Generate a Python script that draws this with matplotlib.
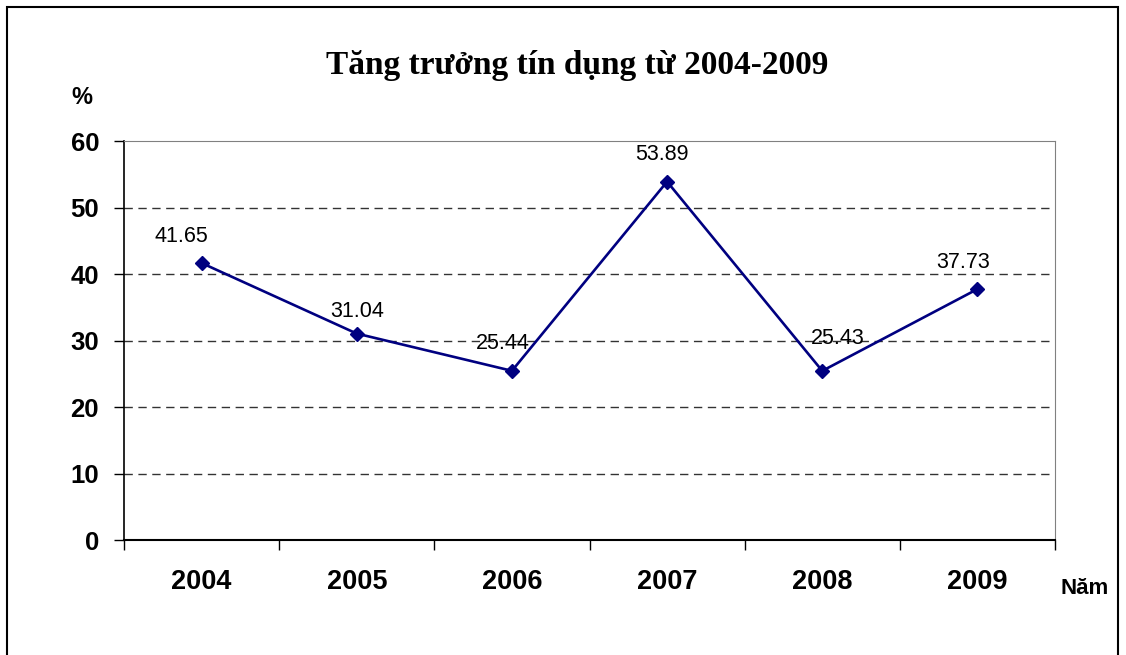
import matplotlib.pyplot as plt
from matplotlib.patches import Rectangle

# data
years = ['2004', '2005', '2006', '2007', '2008', '2009']
growth = [41.65, 31.04, 25.44, 53.89, 25.43, 37.73]
label_offsets = [(-20, 27), (0, 22), (-9, 27), (-5, 27), (15, 32), (-14, 27)]  # pixels

fig = plt.figure(figsize=(11.26, 6.55), dpi=100)
ax = fig.add_axes([124 / 1126, 1 - 540 / 655, 931 / 1126, 399 / 655])

x = list(range(len(years)))
ax.plot(x, growth, color='#000080', lw=1.9, marker='D', ms=7, zorder=3)

for xi, v, (dx, dy) in zip(x, growth, label_offsets):
    ax.annotate('{:.2f}'.format(v), (xi, v), xytext=(dx * 0.72, dy * 0.72),
                textcoords='offset points', ha='center', va='center',
                fontsize=15.5, family='Liberation Sans', zorder=2)

ax.set_xlim(-0.5, len(years) - 0.5)
ax.set_ylim(0, 60)
ax.set_yticks(range(0, 61, 10))
ax.set_xticks(x)
ax.set_xticklabels(years)
ax.set_xticks([i + 0.5 for i in range(-1, len(years))], minor=True)
ax.tick_params(axis='x', which='major', length=0, pad=21)
ax.tick_params(axis='x', which='minor', length=7, width=1, direction='out')
ax.tick_params(axis='y', length=7, width=1, pad=11)
for lab in ax.get_xticklabels():
    lab.set_fontsize(19.5)
    lab.set_fontweight('bold')
    lab.set_family('Liberation Sans')
for lab in ax.get_yticklabels():
    lab.set_fontsize(18.5)
    lab.set_fontweight('bold')
    lab.set_family('Liberation Sans')

# gridlines
for g in range(10, 60, 10):
    ax.axhline(g, color='#333333', lw=1, ls=(0, (6, 4)), zorder=1)
ax.spines['top'].set_color('#808080')
ax.spines['right'].set_color('#808080')
ax.spines['left'].set_linewidth(1.2)
ax.spines['bottom'].set_linewidth(1.5)

fig.text(577 / 1126, 1 - 74 / 655, 'Tăng trưởng tín dụng từ 2004-2009', ha='center',
         va='baseline', fontsize=24, fontweight='bold', family='Liberation Serif')
fig.text(82 / 1126, 1 - 97 / 655, '%', ha='center', va='center', fontsize=17,
         fontweight='bold', family='Liberation Sans')
fig.text(1085 / 1126, 1 - 588 / 655, 'Năm', ha='center', va='center', fontsize=16,
         fontweight='bold', family='Liberation Sans')

# outer frame
fig.patches.append(Rectangle((7 / 1126, -0.05), 1111 / 1126, 1.05 - 7 / 655,
                             transform=fig.transFigure, fill=False, lw=1.5,
                             edgecolor='black'))

fig.savefig('out.png', dpi=100)
